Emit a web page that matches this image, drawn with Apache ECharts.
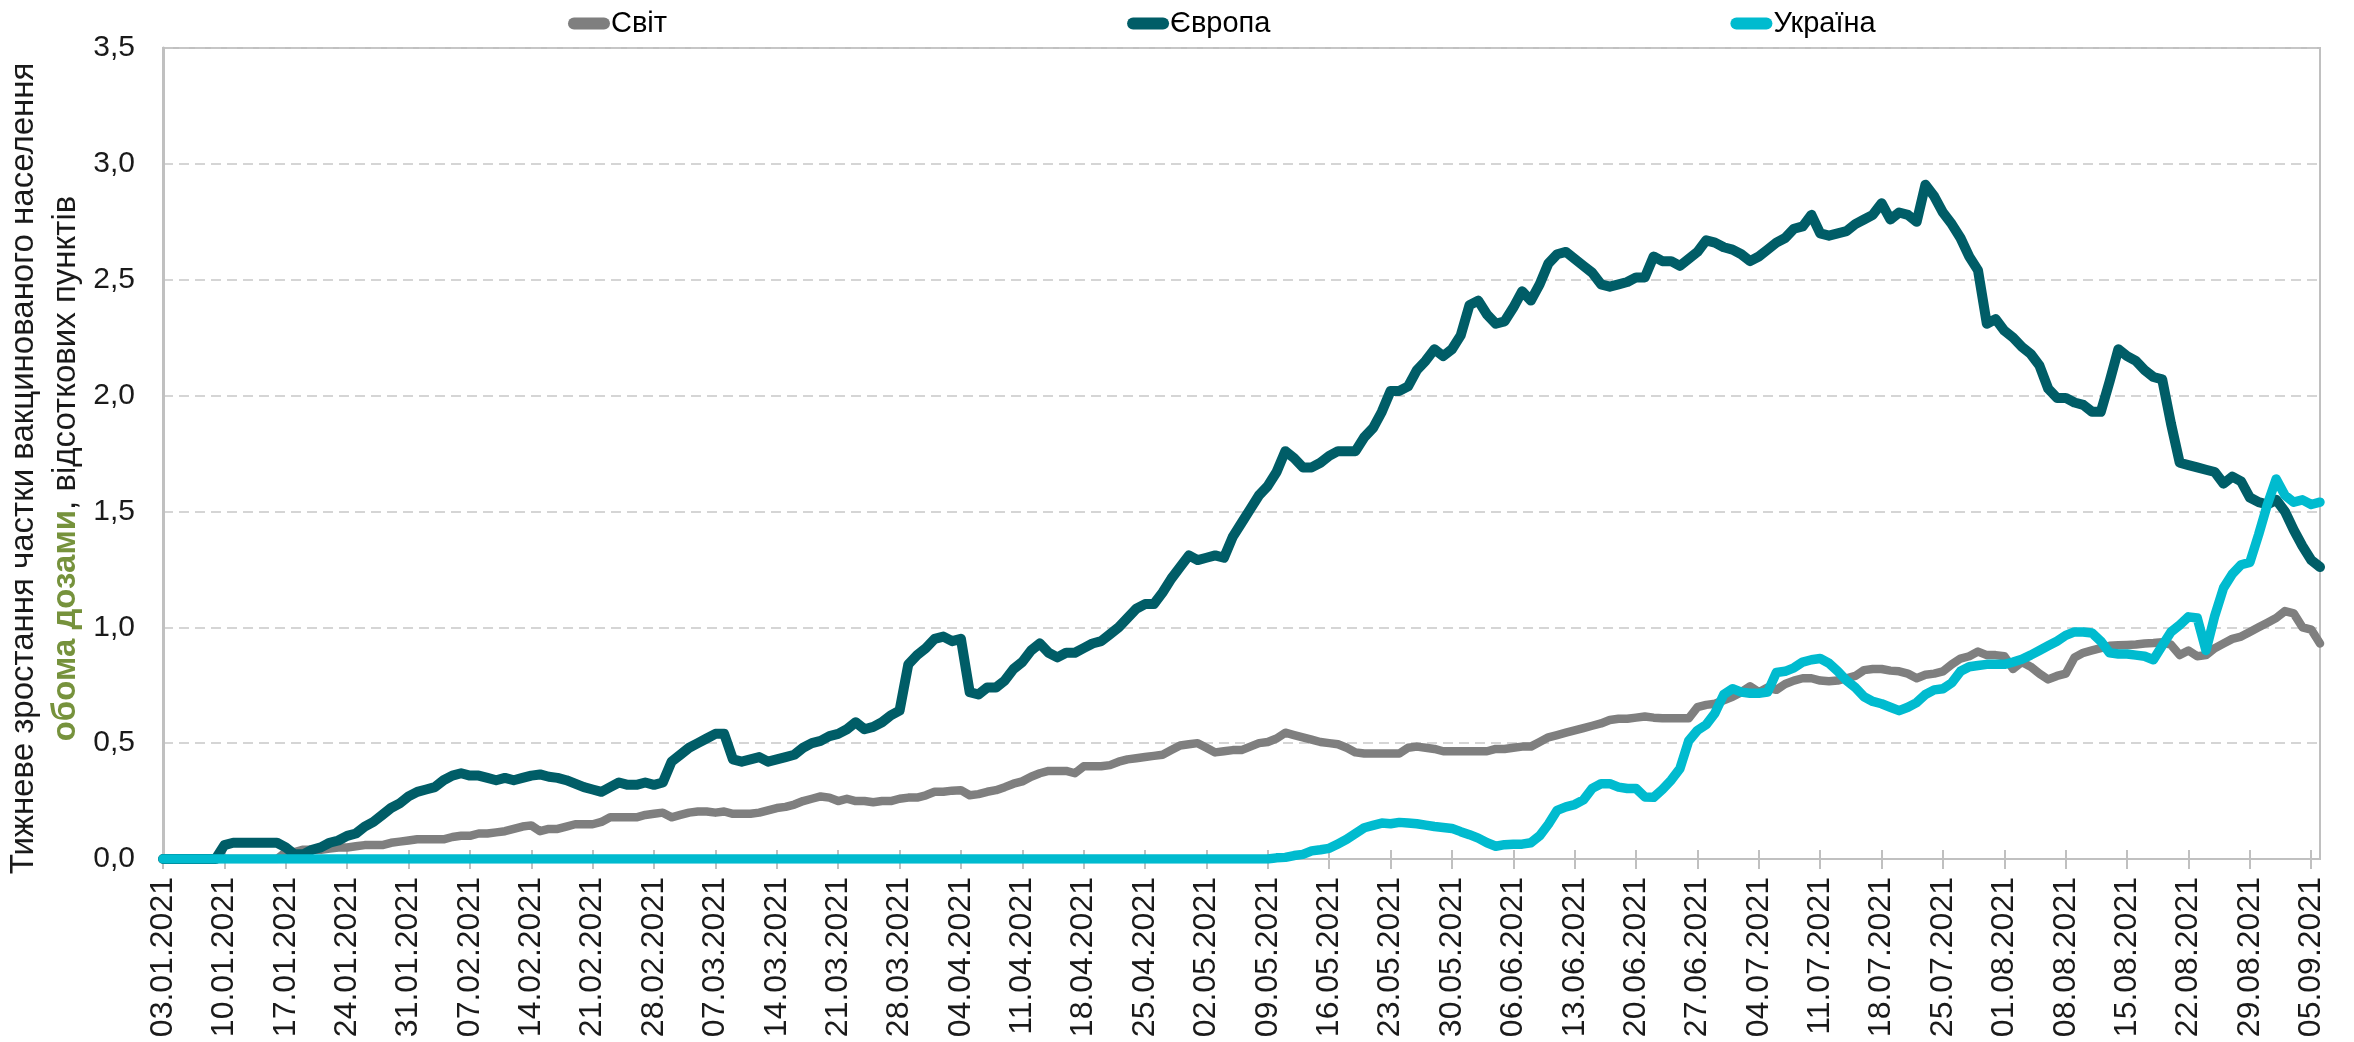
<!DOCTYPE html>
<html>
<head>
<meta charset="utf-8">
<script src="https://cdn.jsdelivr.net/npm/echarts@6/dist/echarts.min.js"></script>
<style>
html,body{margin:0;padding:0;background:#fff;}
#main{width:2354px;height:1042px;}
</style>
</head>
<body>
<div id="main"></div>
<script>
var seriesNames = ['Світ', 'Європа', 'Україна'];

var world = [
    0,0,0,0,0,0,0,
    0,0,0,0,0,0,0,
    0.03,0.03,0.04,0.04,0.04,0.045,0.05,
    0.05,0.055,0.06,0.06,0.06,0.07,0.075,
    0.08,0.085,0.085,0.085,0.085,0.095,0.10,
    0.10,0.11,0.11,0.115,0.12,0.13,0.14,
    0.145,0.12,0.13,0.13,0.14,0.15,0.15,
    0.15,0.16,0.18,0.18,0.18,0.18,0.19,
    0.195,0.20,0.18,0.19,0.20,0.205,0.205,
    0.20,0.205,0.195,0.195,0.195,0.20,0.21,
    0.22,0.225,0.235,0.25,0.26,0.27,0.265,
    0.25,0.26,0.25,0.25,0.245,0.25,0.25,
    0.26,0.265,0.265,0.275,0.29,0.29,0.295,
    0.297,0.275,0.28,0.29,0.297,0.31,0.325,
    0.335,0.355,0.37,0.38,0.38,0.38,0.37,
    0.40,0.40,0.40,0.405,0.42,0.43,0.435,
    0.44,0.445,0.45,0.47,0.49,0.495,0.50,
    0.48,0.46,0.465,0.47,0.47,0.485,0.50,
    0.505,0.52,0.545,0.535,0.525,0.515,0.505,
    0.50,0.495,0.48,0.46,0.455,0.455,0.455,
    0.455,0.455,0.48,0.485,0.48,0.475,0.465,
    0.465,0.465,0.465,0.465,0.465,0.475,0.475,
    0.48,0.485,0.485,0.505,0.525,0.535,0.545,
    0.555,0.565,0.575,0.585,0.60,0.605,0.605,
    0.61,0.615,0.61,0.607,0.607,0.607,0.607,
    0.655,0.665,0.67,0.685,0.70,0.72,0.745,
    0.72,0.74,0.73,0.755,0.77,0.78,0.78,
    0.77,0.767,0.77,0.78,0.79,0.815,0.82,
    0.82,0.813,0.81,0.80,0.78,0.795,0.80,
    0.81,0.84,0.865,0.875,0.895,0.88,0.88,
    0.875,0.82,0.85,0.83,0.80,0.775,0.79,
    0.80,0.87,0.89,0.90,0.91,0.92,0.922,
    0.924,0.926,0.93,0.932,0.935,0.925,0.88,
    0.90,0.875,0.88,0.91,0.93,0.95,0.96,
    0.98,1.00,1.02,1.04,1.07,1.06,1.00,
    0.99,0.93
];

var europe = [
    0,0,0,0,0,0,0,
    0.06,0.07,0.07,0.07,0.07,0.07,0.07,
    0.05,0.02,0.02,0.04,0.05,0.07,0.08,
    0.10,0.11,0.14,0.16,0.19,0.22,0.24,
    0.27,0.29,0.30,0.31,0.34,0.36,0.37,
    0.36,0.36,0.35,0.34,0.35,0.34,0.35,
    0.36,0.365,0.355,0.35,0.34,0.325,0.31,
    0.30,0.29,0.31,0.33,0.32,0.32,0.33,
    0.32,0.33,0.42,0.45,0.48,0.50,0.52,
    0.54,0.54,0.43,0.42,0.43,0.44,0.42,
    0.43,0.44,0.45,0.48,0.50,0.51,0.53,
    0.54,0.56,0.59,0.56,0.57,0.59,0.62,
    0.64,0.84,0.88,0.91,0.95,0.96,0.94,
    0.95,0.72,0.71,0.74,0.74,0.77,0.82,
    0.85,0.90,0.93,0.89,0.87,0.89,0.89,
    0.91,0.93,0.94,0.97,1.00,1.04,1.08,
    1.10,1.10,1.15,1.21,1.26,1.31,1.29,
    1.30,1.31,1.30,1.39,1.45,1.51,1.57,
    1.61,1.67,1.76,1.73,1.69,1.69,1.71,
    1.74,1.76,1.76,1.76,1.82,1.86,1.93,
    2.02,2.02,2.04,2.11,2.15,2.20,2.17,
    2.20,2.26,2.39,2.41,2.35,2.31,2.32,
    2.38,2.45,2.41,2.48,2.57,2.61,2.62,
    2.59,2.56,2.53,2.48,2.47,2.48,2.49,
    2.51,2.51,2.60,2.58,2.58,2.56,2.59,
    2.62,2.67,2.66,2.64,2.63,2.61,2.58,
    2.60,2.63,2.66,2.68,2.72,2.73,2.78,
    2.70,2.69,2.70,2.71,2.74,2.76,2.78,
    2.83,2.76,2.79,2.78,2.75,2.91,2.86,
    2.79,2.74,2.68,2.60,2.54,2.31,2.33,
    2.28,2.25,2.21,2.18,2.13,2.03,1.99,
    1.99,1.97,1.96,1.93,1.93,2.06,2.20,
    2.17,2.15,2.11,2.08,2.07,1.88,1.71,
    1.70,1.69,1.68,1.67,1.62,1.65,1.63,
    1.56,1.54,1.53,1.55,1.50,1.42,1.35,
    1.29,1.26
];

var ukraine = [
    0,0,0,0,0,0,0,
    0,0,0,0,0,0,0,
    0,0,0,0,0,0,0,
    0,0,0,0,0,0,0,
    0,0,0,0,0,0,0,
    0,0,0,0,0,0,0,
    0,0,0,0,0,0,0,
    0,0,0,0,0,0,0,
    0,0,0,0,0,0,0,
    0,0,0,0,0,0,0,
    0,0,0,0,0,0,0,
    0,0,0,0,0,0,0,
    0,0,0,0,0,0,0,
    0,0,0,0,0,0,0,
    0,0,0,0,0,0,0,
    0,0,0,0,0,0,0,
    0,0,0,0,0,0,0,
    0,0,0,0,0,0,0,
    0,0.005,0.007,0.015,0.02,0.035,0.04,
    0.046,0.065,0.085,0.11,0.135,0.145,0.155,
    0.152,0.158,0.155,0.152,0.146,0.14,0.136,
    0.132,0.118,0.105,0.09,0.07,0.055,0.062,
    0.064,0.064,0.07,0.10,0.15,0.21,0.225,
    0.235,0.255,0.305,0.325,0.325,0.31,0.304,
    0.304,0.268,0.266,0.30,0.34,0.39,0.51,
    0.555,0.58,0.63,0.71,0.735,0.72,0.715,
    0.715,0.72,0.805,0.81,0.825,0.85,0.86,
    0.865,0.845,0.81,0.77,0.74,0.70,0.68,
    0.67,0.655,0.64,0.655,0.675,0.71,0.73,
    0.735,0.76,0.81,0.83,0.835,0.84,0.84,
    0.84,0.85,0.862,0.88,0.90,0.92,0.94,
    0.965,0.98,0.98,0.975,0.94,0.89,0.885,
    0.885,0.88,0.875,0.86,0.92,0.98,1.01,
    1.045,1.04,0.90,1.05,1.17,1.23,1.27,
    1.28,1.40,1.53,1.64,1.57,1.54,1.55,
    1.53,1.54
];

// daily categories 03.01.2021 .. 06.09.2021, one per value
var dates = [];
(function () {
    var d = new Date(2021, 0, 3);
    for (var i = 0; i < europe.length; i++) {
        var dd = ('0' + d.getDate()).slice(-2);
        var mm = ('0' + (d.getMonth() + 1)).slice(-2);
        dates.push(dd + '.' + mm + '.' + d.getFullYear());
        d.setDate(d.getDate() + 1);
    }
})();

var colors = ['#7f7f7f', '#005d67', '#00bbcf'];
var fontFamily = '"Liberation Sans", Arial, sans-serif';

var chart_1 = {
    draw: function (id) {
        var myChart = echarts.init(document.getElementById(id));
        myChart.setOption(this.getOption());
    },
    line: function (name, data, color, width) {
        return {
            name: name,
            type: 'line',
            data: data,
            showSymbol: false,
            symbol: 'none',
            color: color,
            lineStyle: { color: color, width: width, cap: 'round', join: 'round' }
        };
    },
    getOption: function () {
        return {
            animation: false,
            backgroundColor: '#fff',
            textStyle: { fontFamily: fontFamily },
            legend: {
                data: seriesNames,
                top: 4,
                left: 563,
                itemGap: 460,
                itemWidth: 42,
                itemHeight: 12,
                icon: 'path://M6,0 H36 A6,6 0 0 1 36,12 H6 A6,6 0 0 1 6,0 Z',
                textStyle: { fontSize: 29, color: '#000', fontFamily: fontFamily, padding: [0, 0, 0, -4] }
            },
            grid: {
                left: 163, right: 34, top: 48, bottom: 183,
                outerBoundsMode: 'none',
                show: true, borderColor: '#c0c0c0', borderWidth: 2
            },
            xAxis: [{
                type: 'category',
                data: dates,
                boundaryGap: false,
                axisLine: { lineStyle: { color: '#c0c0c0', width: 2 } },
                axisTick: { show: true, interval: 6, length: 10, lineStyle: { color: '#c0c0c0', width: 2 } },
                axisLabel: {
                    interval: 6, rotate: 90, margin: 18,
                    fontSize: 32, color: '#1a1a1a', fontFamily: fontFamily
                },
                splitLine: { show: false }
            }, {
                type: 'category',
                data: dates,
                boundaryGap: false,
                position: 'bottom',
                axisLine: { show: false },
                axisTick: { show: true, inside: true, interval: 6, length: 9, lineStyle: { color: '#c0c0c0', width: 2 } },
                axisLabel: { show: false },
                splitLine: { show: false }
            }],
            yAxis: {
                type: 'value',
                min: 0, max: 3.5, interval: 0.5,
                axisLine: { show: true, lineStyle: { color: '#c0c0c0', width: 3 } },
                axisTick: { show: false },
                axisLabel: {
                    margin: 28, fontSize: 30, color: '#1a1a1a', fontFamily: fontFamily,
                    formatter: function (v) { return v.toFixed(1).replace('.', ','); }
                },
                splitLine: { lineStyle: { color: '#c8c8c8', width: 1.5, type: [10, 6] } },
                name: '{a|Тижневе зростання частки вакцинованого населення}\n{b|обома дозами}{a|, відсоткових пунктів}',
                nameLocation: 'middle',
                nameRotate: 90,
                nameGap: 68,
                nameTextStyle: {
                    padding: [0, 30, 0, 0],
                    rich: {
                        a: { fontSize: 33, color: '#1a1a1a', fontFamily: fontFamily, lineHeight: 42 },
                        b: { fontSize: 33, color: '#76923c', fontWeight: 'bold', fontFamily: fontFamily, lineHeight: 42 }
                    }
                }
            },
            series: [
                this.line(seriesNames[0], world, colors[0], 8.5),
                this.line(seriesNames[1], europe, colors[1], 10),
                this.line(seriesNames[2], ukraine, colors[2], 9.5)
            ]
        };
    }
};

chart_1.draw('main');
</script>
</body>
</html>
